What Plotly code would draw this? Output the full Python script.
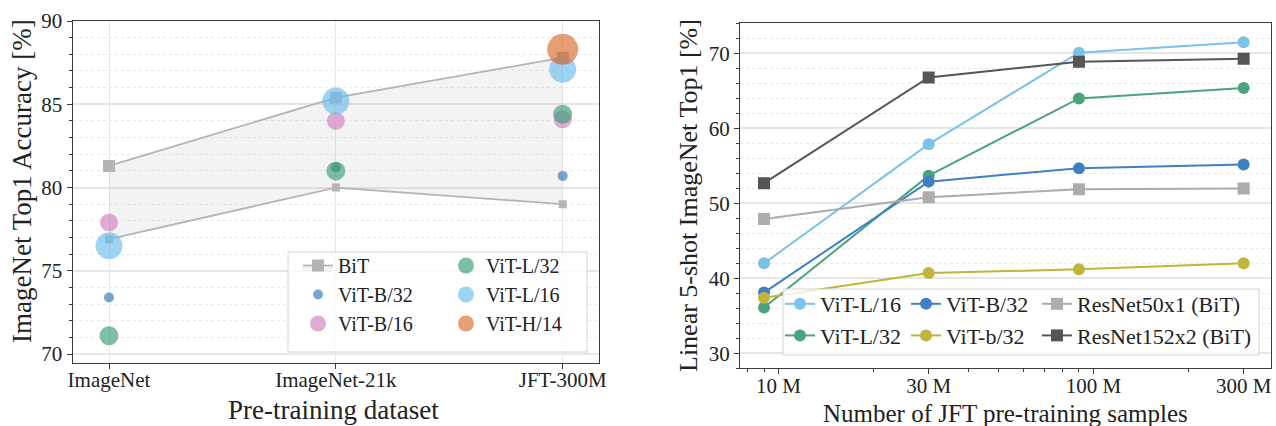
import plotly.graph_objects as go

W, H = 1276, 426

# ---------------- data: left panel ----------------
datasets = ["ImageNet", "ImageNet-21k", "JFT-300M"]
bit_upper = [81.3, 85.4, 87.8]
bit_lower = [76.9, 80.0, 79.0]
vit_b32 = [73.4, 81.2, 80.7]
vit_b16 = [77.9, 84.0, 84.1]
vit_l32 = [71.1, 81.0, 84.4]
vit_l16 = [76.5, 85.2, 87.1]
vit_h14 = [None, None, 88.3]

# ---------------- data: right panel ----------------
samples = [9e6, 30e6, 90e6, 300e6]
sample_tickvals = [1e7, 3e7, 1e8, 3e8]
sample_ticktext = ["10 M", "30 M", "100 M", "300 M"]
fs_vit_l16 = [42.0, 57.9, 70.1, 71.5]
fs_vit_l32 = [36.1, 53.7, 64.0, 65.4]
fs_vit_b32 = [38.1, 52.9, 54.7, 55.2]
fs_vit_b32_small = [37.4, 40.7, 41.2, 42.0]
fs_r50 = [47.9, 50.8, 51.9, 52.0]
fs_r152 = [52.7, 66.8, 68.9, 69.3]


def px(x):
    return x / W


def py(y):
    return 1 - y / H


FONT = "Liberation Serif, Times New Roman, serif"
TXT = "#222222"

fig = go.Figure()

# ---- left panel traces ----
fig.add_trace(go.Scatter(
    x=datasets, y=bit_lower, mode="lines+markers", xaxis="x", yaxis="y",
    line=dict(color="#b4b4b4", width=1.8),
    marker=dict(symbol="square", size=8, color="#b4b4b4"),
    showlegend=False, hoverinfo="skip"))
fig.add_trace(go.Scatter(
    x=datasets, y=bit_upper, mode="lines+markers", xaxis="x", yaxis="y",
    name="BiT", legend="legend",
    fill="tonexty", fillcolor="rgba(190,190,190,0.18)",
    line=dict(color="#b4b4b4", width=1.8),
    marker=dict(symbol="square", size=12, color="#b4b4b4")))

left_series = [
    ("ViT-B/32", vit_b32, "#2f76bd", 10, "legend"),
    ("ViT-B/16", vit_b16, "#cf7fbd", 18, "legend"),
    ("ViT-L/32", vit_l32, "#3a9e73", 19, "legend2"),
    ("ViT-L/16", vit_l16, "#6cbcec", 27, "legend2"),
    ("ViT-H/14", vit_h14, "#d86a2a", 31, "legend2"),
]
for name, vals, col, sz, lg in left_series:
    fig.add_trace(go.Scatter(
        x=datasets, y=vals, mode="markers", xaxis="x", yaxis="y",
        name=name, legend=lg,
        marker=dict(size=sz, color=col, opacity=0.65, line=dict(width=0))))

# ---- right panel traces ----
right_series = [
    ("ViT-L/16", fs_vit_l16, "#7cc1ea", "circle", "legend3"),
    ("ViT-L/32", fs_vit_l32, "#4aa37c", "circle", "legend3"),
    ("ViT-B/32", fs_vit_b32, "#3f80c4", "circle", "legend4"),
    ("ViT-b/32", fs_vit_b32_small, "#c0b43a", "circle", "legend4"),
    ("ResNet50x1 (BiT)", fs_r50, "#acacac", "square", "legend5"),
    ("ResNet152x2 (BiT)", fs_r152, "#555555", "square", "legend5"),
]
for name, vals, col, sym, lg in right_series:
    fig.add_trace(go.Scatter(
        x=samples, y=vals, mode="lines+markers", xaxis="x2", yaxis="y2",
        name=name, legend=lg,
        line=dict(color=col, width=2),
        marker=dict(symbol=sym, size=12, color=col)))

# ---- axes ----
grid_major = "#e6e6e6"
grid_minor = "#e9e9e9"
axis_common = dict(showline=True, linecolor="#3a3a3a", linewidth=1.3, mirror=True,
                   ticks="outside", ticklen=5, tickcolor="#3a3a3a", automargin=False,
                   tickfont=dict(family=FONT, size=21, color=TXT), zeroline=False)

lx0, lx1, ly0, ly1 = 72.7, 599, 20.7, 362.7
rx0, rx1, ry0, ry1 = 740, 1271, 22.7, 368.3

fig.update_layout(
    xaxis=dict(domain=[px(lx0), px(lx1)], anchor="y", type="category",
               range=[-0.16, 2.16], showgrid=True, gridcolor=grid_major,
               gridwidth=1, ticklabelstandoff=-7, **axis_common),
    yaxis=dict(domain=[py(ly1), py(ly0)], anchor="x", range=[69.48, 90.02],
               tickvals=[70, 75, 80, 85, 90], showgrid=True, gridcolor=grid_major,
               gridwidth=1.5,
               minor=dict(dtick=1, tick0=70, showgrid=True, gridcolor=grid_minor,
                          griddash="dot", gridwidth=1, ticks="outside", ticklen=3,
                          tickcolor="#3a3a3a"),
               **axis_common),
    xaxis2=dict(domain=[px(rx0), px(rx1)], anchor="y2", type="log",
                range=[6.878, 8.564], tickvals=sample_tickvals,
                ticktext=sample_ticktext, showgrid=False, ticklabelstandoff=-7,
                minor=dict(tickvals=[k * 10 ** e for e in (6, 7, 8) for k in range(2, 10)],
                           ticks="outside", ticklen=3, tickcolor="#3a3a3a",
                           showgrid=False),
                **axis_common),
    yaxis2=dict(domain=[py(ry1), py(ry0)], anchor="x2", range=[28.0, 74.1],
                tickvals=[30, 40, 50, 60, 70], showgrid=True, gridcolor=grid_major,
                gridwidth=1.5,
                minor=dict(dtick=2, tick0=30, showgrid=True, gridcolor=grid_minor,
                           griddash="dot", gridwidth=1, ticks="outside", ticklen=3,
                           tickcolor="#3a3a3a"),
                **axis_common),
)

# ---- legends ----
def leg(x, y, size):
    return dict(x=px(x), y=py(y), xanchor="left", yanchor="top", orientation="v",
                bgcolor="rgba(0,0,0,0)", borderwidth=0, tracegroupgap=0,
                traceorder="normal",
                font=dict(family=FONT, size=size, color=TXT), itemsizing="trace")

fig.update_layout(
    legend=leg(298, 246, 20),
    legend2=leg(446, 246, 20),
    legend3=leg(780, 283, 22),
    legend4=leg(906, 283, 22),
    legend5=leg(1037, 283, 22),
)

# legend frames
fig.add_shape(type="rect", xref="paper", yref="paper",
              x0=px(288), x1=px(587), y0=py(352), y1=py(252),
              fillcolor="rgba(255,255,255,0.8)", line=dict(color="#d4d4d4", width=1),
              layer="above")
fig.add_shape(type="rect", xref="paper", yref="paper",
              x0=px(783), x1=px(1259), y0=py(355), y1=py(289),
              fillcolor="rgba(255,255,255,0.8)", line=dict(color="#d4d4d4", width=1),
              layer="above")

# ---- axis titles ----
def title(text, x, y, angle=0, size=26):
    fig.add_annotation(text=text, xref="paper", yref="paper", x=px(x), y=py(y),
                       xanchor="center", yanchor="middle", showarrow=False,
                       textangle=angle, font=dict(family=FONT, size=size, color=TXT))

title("Pre-training dataset", 333, 410, size=27)
title("ImageNet Top1 Accuracy [%]", 22, 181, -90, size=27)
title("Number of JFT pre-training samples", 1005, 413, size=25)
title("Linear 5-shot ImageNet Top1 [%]", 688, 196, -90)

fig.update_layout(
    width=W, height=H, margin=dict(l=0, r=0, t=0, b=0, autoexpand=False),
    paper_bgcolor="white", plot_bgcolor="white",
    font=dict(family=FONT, color=TXT),
)

fig.write_html(
    "out.html",
    config={"displayModeBar": False},
    post_script="document.body.style.margin='0px';document.body.style.overflow='hidden';",
)
